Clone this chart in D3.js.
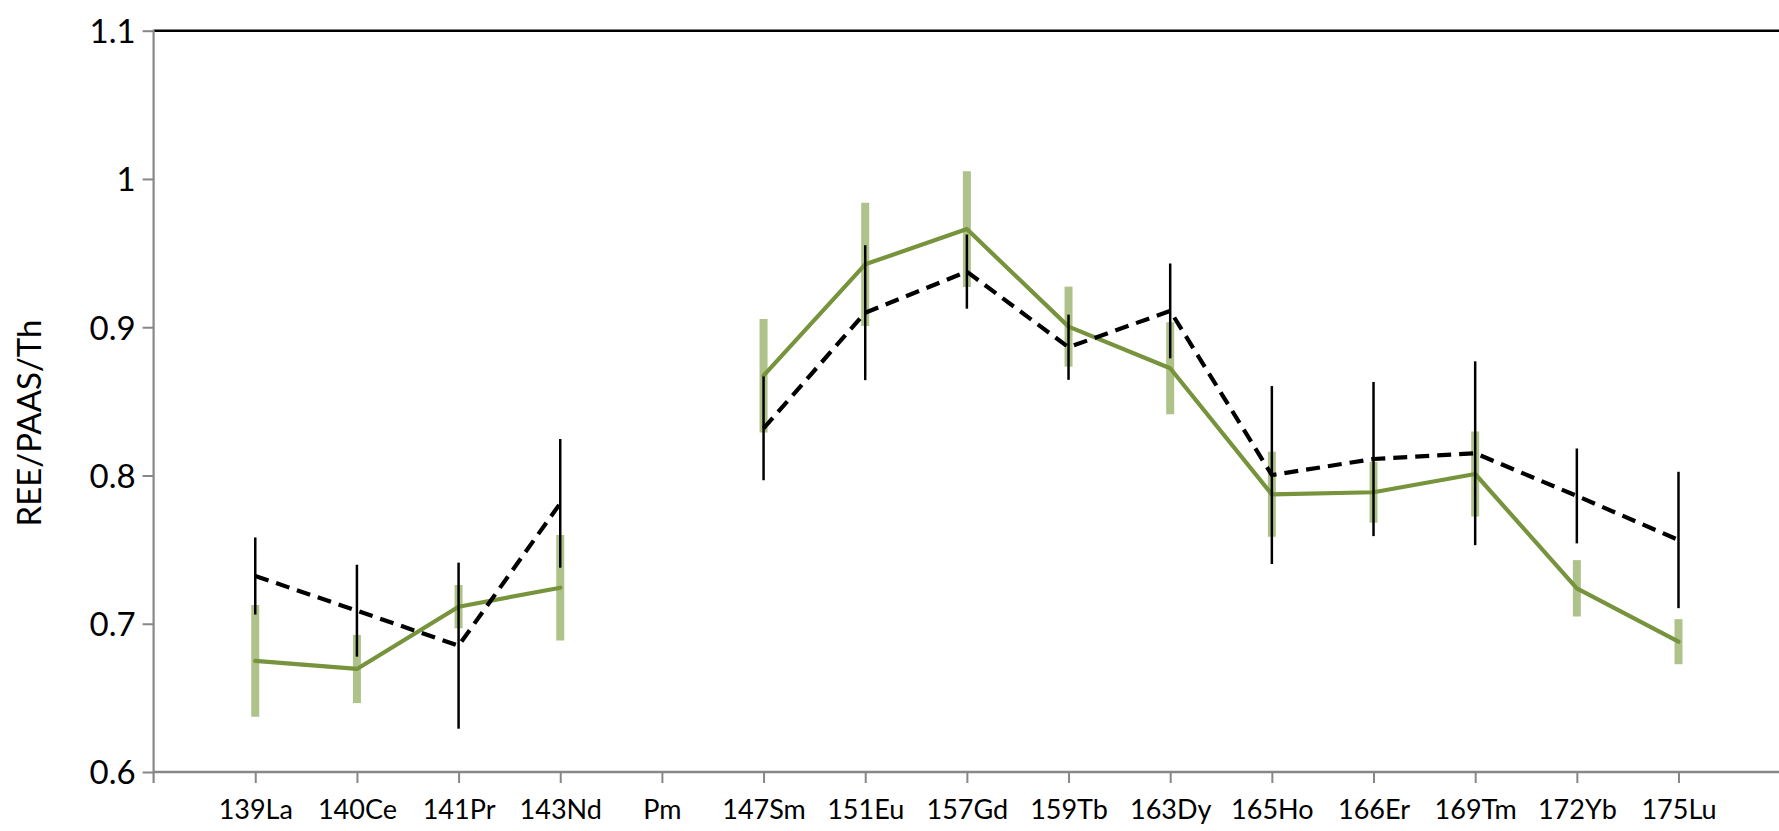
<!DOCTYPE html>
<html>
<head>
<meta charset="utf-8">
<script src="https://cdn.jsdelivr.net/npm/d3@7"></script>
<style>
  html, body { margin: 0; padding: 0; background: #ffffff; }
  svg { display: block; }
  text { font-family: Lato, "Open Sans", sans-serif; fill: #000; }
</style>
</head>
<body>
<div id="chart"></div>
<script>
// REE abundances normalised to PAAS and Th, with ±1σ error bars
const categories = ["139La", "140Ce", "141Pr", "143Nd", "Pm", "147Sm", "151Eu", "157Gd",
                    "159Tb", "163Dy", "165Ho", "166Er", "169Tm", "172Yb", "175Lu"];

const greenValues = [0.675, 0.6695, 0.7115, 0.7243, null, 0.8673, 0.9424, 0.9662,
                     0.9004, 0.8723, 0.7873, 0.7887, 0.801, 0.7239, 0.6879];
const greenErrors = [0.0377, 0.023, 0.0146, 0.0356, null, 0.0383, 0.0416, 0.039,
                     0.027, 0.031, 0.0287, 0.0205, 0.0287, 0.019, 0.0152];

const blackValues = [0.7322, 0.7088, 0.6852, 0.7812, null, 0.8318, 0.9098, 0.9375,
                     0.8865, 0.911, 0.8003, 0.8111, 0.815, 0.7862, 0.7565];
const blackErrors = [0.026, 0.031, 0.056, 0.0434, null, 0.035, 0.0455, 0.025,
                     0.022, 0.032, 0.06, 0.052, 0.062, 0.032, 0.046];

const yTicks = [0.6, 0.7, 0.8, 0.9, 1.0, 1.1];
const yTitle = "REE/PAAS/Th";

const W = 1779, H = 831;
const plotLeft = 153.6, plotTop = 30.7, plotBottom = 772;
const step = 101.66;
const plotRight = plotLeft + step * (categories.length + 1);

const svg = d3.select("#chart").append("svg")
  .attr("width", W).attr("height", H);

svg.append("rect").attr("width", W).attr("height", H).attr("fill", "#fff");

const x = d3.scalePoint()
  .domain(categories)
  .range([plotLeft + step, plotLeft + step * categories.length]);

const y = d3.scaleLinear()
  .domain([0.6, 1.1])
  .range([plotBottom, plotTop]);

const axisGrey = "#878787";

// top border line at 1.1
svg.append("line")
  .attr("x1", plotLeft).attr("x2", W)
  .attr("y1", y(1.1)).attr("y2", y(1.1))
  .attr("stroke", "#000").attr("stroke-width", 2.5);

// y axis
const yAxis = d3.axisLeft(y)
  .tickValues(yTicks)
  .tickSize(11)
  .tickPadding(7)
  .tickFormat(d3.format("~g"));

const gy = svg.append("g")
  .attr("transform", `translate(${plotLeft},0)`)
  .call(yAxis);
gy.select(".domain").remove();
gy.selectAll(".tick line").attr("stroke", axisGrey).attr("stroke-width", 2);
gy.selectAll(".tick text")
  .attr("font-size", 33)
  .attr("font-family", "Lato, sans-serif")
  .attr("fill", "#000")
  .attr("dy", "0.36em");

svg.append("line")
  .attr("x1", plotLeft).attr("x2", plotLeft)
  .attr("y1", plotTop - 1).attr("y2", plotBottom + 11)
  .attr("stroke", axisGrey).attr("stroke-width", 2.2);

// x axis
const xAxis = d3.axisBottom(x).tickSize(11).tickPadding(17);
const gx = svg.append("g")
  .attr("transform", `translate(0,${plotBottom})`)
  .call(xAxis);
gx.select(".domain").remove();
gx.selectAll(".tick line").attr("stroke", axisGrey).attr("stroke-width", 2);
gx.selectAll(".tick text")
  .attr("font-size", 27)
  .attr("font-family", "Lato, sans-serif")
  .attr("fill", "#000");

svg.append("line")
  .attr("x1", plotLeft).attr("x2", W)
  .attr("y1", plotBottom).attr("y2", plotBottom)
  .attr("stroke", axisGrey).attr("stroke-width", 2.4);

// y axis title
svg.append("text")
  .attr("transform", `translate(41,423) rotate(-90)`)
  .attr("text-anchor", "middle")
  .attr("font-size", 33)
  .text(yTitle);

const rows = categories.map((c, i) => ({
  cat: c,
  g: greenValues[i], ge: greenErrors[i],
  b: blackValues[i], be: blackErrors[i]
}));

// green error bars
svg.append("g").selectAll("line")
  .data(rows.filter(d => d.g != null))
  .join("line")
  .attr("x1", d => x(d.cat)).attr("x2", d => x(d.cat))
  .attr("y1", d => y(d.g + d.ge)).attr("y2", d => y(d.g - d.ge))
  .attr("stroke", "#aec28a").attr("stroke-width", 8);

// green series line
const lineG = d3.line()
  .defined(d => d.g != null)
  .x(d => x(d.cat)).y(d => y(d.g));
svg.append("path")
  .datum(rows)
  .attr("d", lineG)
  .attr("fill", "none")
  .attr("stroke", "#77933c")
  .attr("stroke-width", 4.2)
  .attr("stroke-linejoin", "round")
  .attr("stroke-linecap", "round");

// black error bars
svg.append("g").selectAll("line")
  .data(rows.filter(d => d.b != null))
  .join("line")
  .attr("x1", d => x(d.cat)).attr("x2", d => x(d.cat))
  .attr("y1", d => y(d.b + d.be)).attr("y2", d => y(d.b - d.be))
  .attr("stroke", "#000").attr("stroke-width", 2.5);

// black dashed series line
const lineB = d3.line()
  .defined(d => d.b != null)
  .x(d => x(d.cat)).y(d => y(d.b));
svg.append("path")
  .datum(rows)
  .attr("d", lineB)
  .attr("fill", "none")
  .attr("stroke", "#000")
  .attr("stroke-width", 4.2)
  .attr("stroke-dasharray", "14,8")
  .attr("stroke-linejoin", "round");
</script>
</body>
</html>
